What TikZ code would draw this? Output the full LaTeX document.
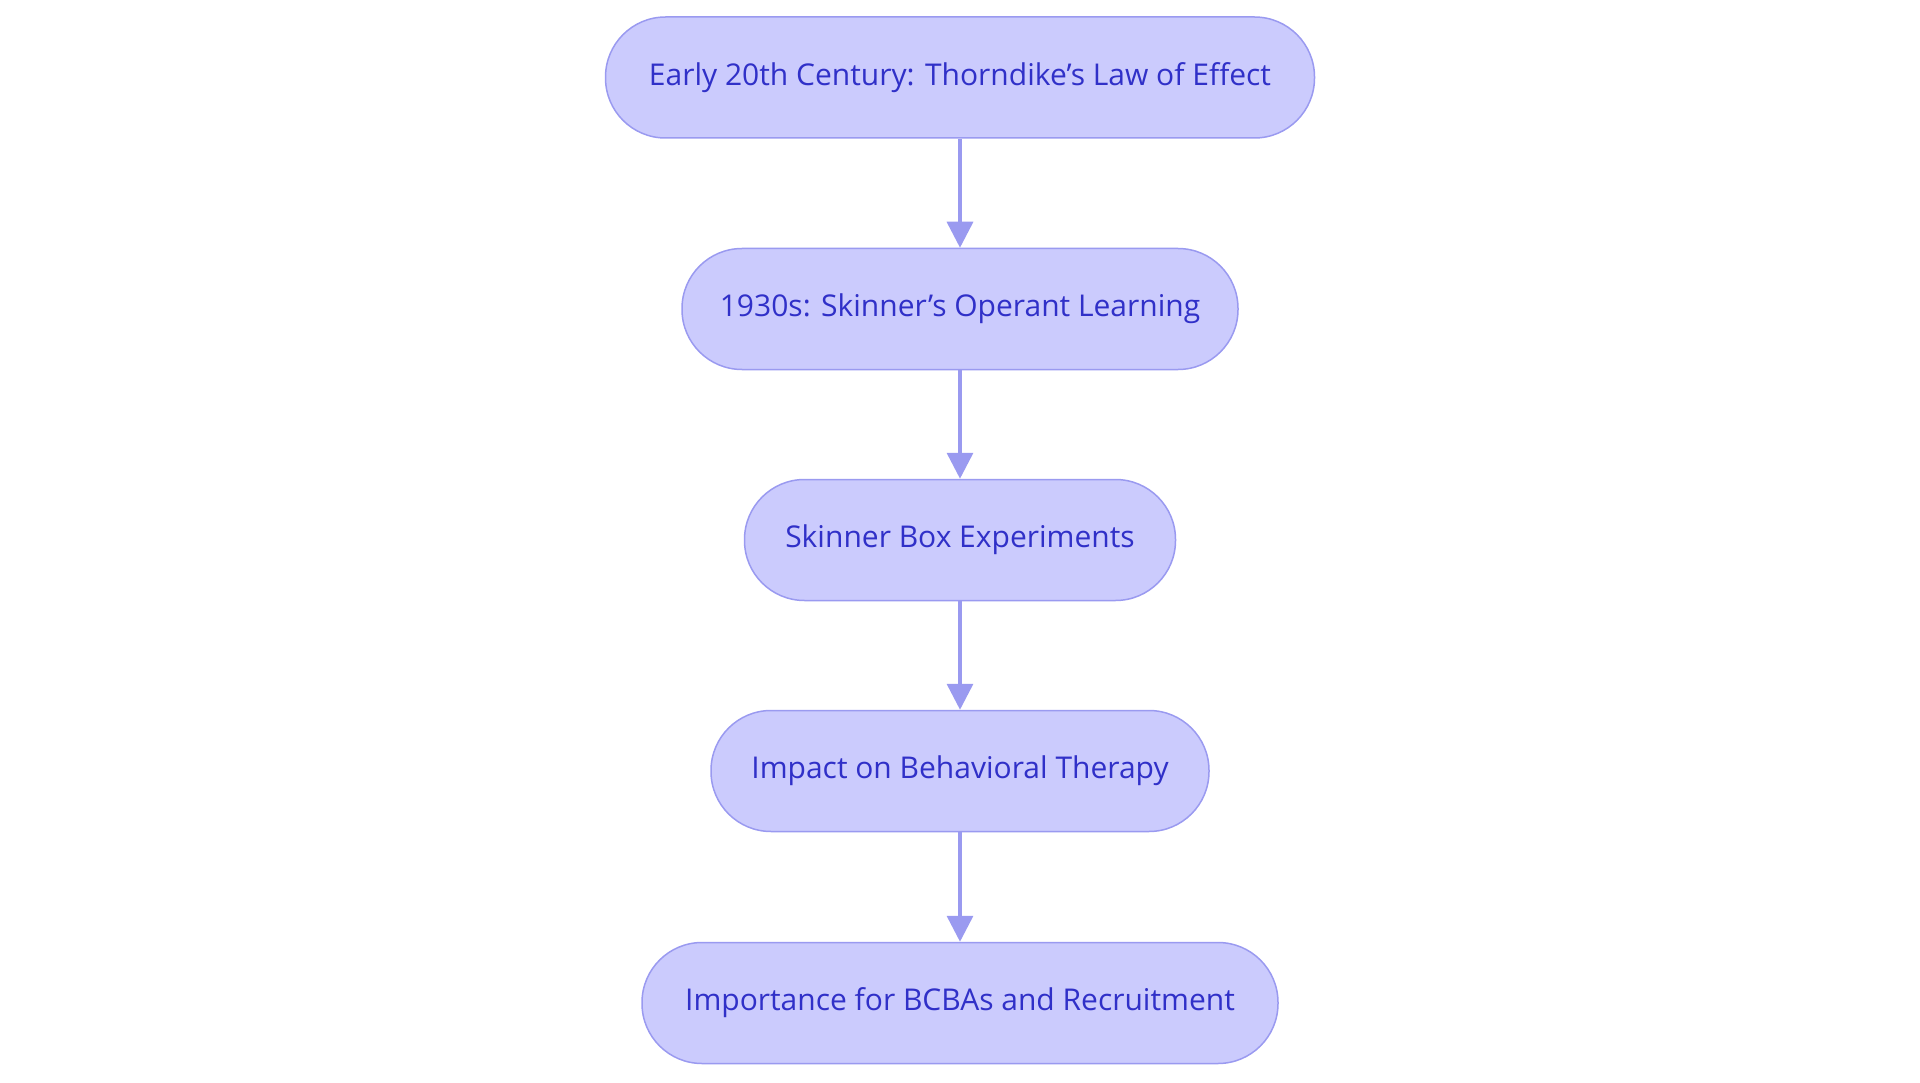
\documentclass[tikz,border=0pt]{standalone}
\usepackage{fontspec}
\setmainfont{Open Sans}
\usetikzlibrary{arrows.meta}
\definecolor{boxfill}{HTML}{CBCBFD}
\definecolor{boxline}{HTML}{9A9AF0}
\definecolor{boxtext}{HTML}{3030C8}
\tikzset{
  stage/.style={rectangle, draw=boxline, fill=boxfill, line width=1.5pt,
    text=boxtext, font=\fontsize{30}{36}\selectfont, minimum height=121pt,
    inner sep=0pt, rounded corners=60pt},
  link/.style={draw=boxline, line width=3.5pt, -{Triangle[length=26pt,width=26pt]}}
}
\begin{document}
\begin{tikzpicture}[x=1pt,y=-1pt]
\useasboundingbox (0,0) rectangle (1920,1083);
\node[stage, minimum width=709pt] (a) at (960,77.5) {Early 20th Century: Thorndike’s Law of Effect};
\node[stage, minimum width=556pt] (b) at (960,309) {1930s: Skinner’s Operant Learning};
\node[stage, minimum width=431pt] (c) at (960,540) {Skinner Box Experiments};
\node[stage, minimum width=498pt] (d) at (960,771) {Impact on Behavioral Therapy};
\node[stage, minimum width=636pt] (e) at (960,1003) {Importance for BCBAs and Recruitment};
\draw[link] (a) -- (b);
\draw[link] (b) -- (c);
\draw[link] (c) -- (d);
\draw[link] (d) -- (e);
\end{tikzpicture}
\end{document}
